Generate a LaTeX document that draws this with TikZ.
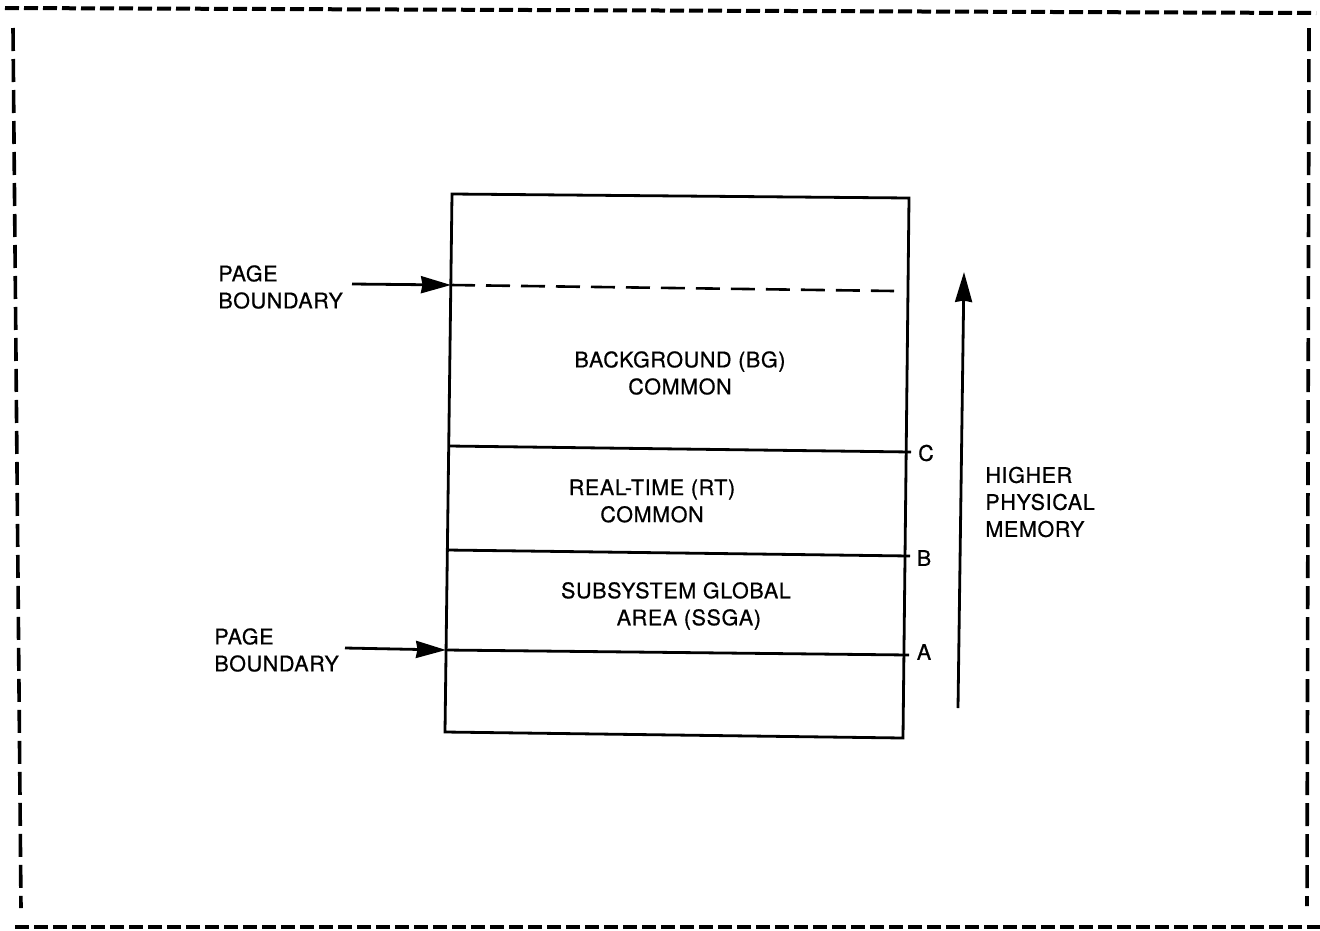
\documentclass[tikz,border=0pt]{standalone}
\usepackage{fontspec}
\setmainfont{TeX Gyre Heros}[LetterSpace=3,FakeBold=0.7]
\usetikzlibrary{arrows.meta}
\begin{document}
\begin{tikzpicture}[x=1pt,y=-1pt,line width=2.8pt,line cap=butt,
  txt/.style={font=\fontsize{21.5}{27}\selectfont,inner sep=0pt,align=left},
  ctxt/.style={font=\fontsize{21.5}{27}\selectfont,inner sep=0pt,align=center},
  arr/.style={line width=2.8pt,-{Stealth[length=30pt,width=17pt,inset=1.5pt]}},
  framehor/.style={line width=4pt,dash pattern=on 14pt off 5pt},
  framever/.style={line width=3.6pt,dash pattern=on 23pt off 8pt},
  pbline/.style={line width=2.6pt,dash pattern=on 24pt off 11pt}]
\useasboundingbox (0,0) rectangle (1320,930);
% page frame
\coordinate (F1) at (5,8);
\coordinate (F2) at (1316,13);
\coordinate (F3) at (13,28);
\coordinate (F4) at (21,908);
\coordinate (F5) at (1309,28);
\coordinate (F6) at (1307,906);
\coordinate (F7) at (15,927);
\coordinate (F8) at (1320,927);
\draw[framehor] (F1) -- (F2);
\draw[framehor] (F7) -- (F8);
\draw[framever] (F3) -- (F4);
\draw[framever] (F5) -- (F6);
% memory box
\coordinate (TL) at (452,194);
\coordinate (TR) at (909,198);
\coordinate (BR) at (903,738);
\coordinate (BL) at (445,732);
\draw (TL) -- (TR) -- (BR) -- (BL) -- cycle;
\coordinate (PBL) at (451,285);
\coordinate (PBR) at (894,291);
\draw[pbline] (PBL) -- (PBR);
\coordinate (CL) at (449,446);
\coordinate (CR) at (911,452);
\coordinate (BBL) at (447,550);
\coordinate (BBR) at (910,556);
\coordinate (AL) at (446,650);
\coordinate (AR) at (909,655);
\draw (CL) -- (CR);
\draw (BBL) -- (BBR);
\draw (AL) -- (AR);
% region labels
\node[ctxt] (bg) at (680,373) {BACKGROUND (BG)\\COMMON};
\node[ctxt] (rt) at (652,501) {REAL-TIME (RT)\\COMMON};
\node[ctxt] (ss) at (676,606) {SUBSYSTEM GLOBAL\\\hspace*{1.2em}AREA (SSGA)};
% boundary letters
\node[txt] (lc) at (926,453) {C};
\node[txt] (lb) at (924,558) {B};
\node[txt] (la) at (924,652) {A};
% page boundary labels and arrows
\node[txt,anchor=west] (pb1) at (217,287) {PAGE\\BOUNDARY};
\node[txt,anchor=west] (pb2) at (213,650) {PAGE\\BOUNDARY};
\coordinate (p1s) at (352,284);
\coordinate (p2s) at (345,648);
\draw[arr] (p1s) -- (PBL);
\draw[arr] (p2s) -- (AL);
% higher physical memory
\coordinate (hs) at (958,708);
\coordinate (he) at (964,272);
\draw[arr] (hs) -- (he);
\node[txt,anchor=west] (hpm) at (984,502) {HIGHER\\PHYSICAL\\MEMORY};
\end{tikzpicture}
\end{document}
